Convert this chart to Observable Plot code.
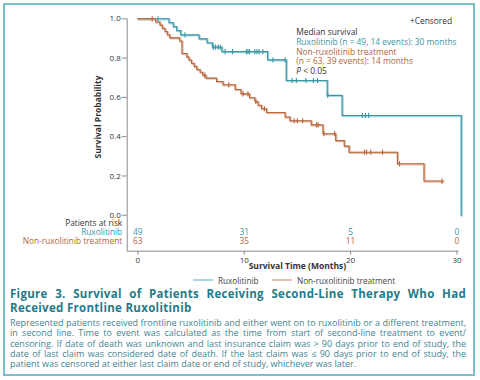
<!DOCTYPE html>
<html><head><meta charset="utf-8">
<script src="https://cdn.jsdelivr.net/npm/d3@7"></script>
<script src="https://cdn.jsdelivr.net/npm/@observablehq/plot@0.6"></script>
<style>
html,body{margin:0;padding:0;background:#fff;}
body{width:480px;height:380px;position:relative;overflow:hidden;font-family:"Open Sans",sans-serif;}
#border{position:absolute;left:3px;top:3px;width:472px;height:373px;box-sizing:border-box;border:2px solid #7cbfca;pointer-events:none}
#chart{position:absolute;left:0;top:0;width:480px}
#legend{position:absolute;top:274px;left:0;width:480px;height:12px;font-size:8.2px;color:#444}
.item{position:absolute;top:0;display:flex;align-items:center;height:12px;white-space:nowrap}
.sw{width:20px;height:2px;margin-right:5px}
#title{position:absolute;left:10px;top:287px;width:456px;font-weight:700;font-size:11.5px;letter-spacing:0.3px;line-height:13.5px;color:#1f7b89}
#body{position:absolute;left:10px;top:318px;width:456px;font-size:9px;line-height:10.3px;color:#3f8592}
.j{display:block;text-align:justify;text-align-last:justify;white-space:nowrap}
.l{display:block;white-space:nowrap}
</style>
</head><body>
<div id="chart"></div>
<div id="legend"></div>
<div id="title"></div>
<div id="body"></div>
<div id="border"></div>
<script>
// ---- data ----
const ruxT = [0, 2.93, 3.34, 3.65, 4.03, 5.75, 6.5, 7.0, 7.9, 12.2, 13.95, 17.8, 19.2, 30.4];
const ruxS = [1.0, 0.980, 0.960, 0.940, 0.918, 0.898, 0.878, 0.856, 0.833, 0.791, 0.686, 0.610, 0.508, 0.0];
const ruxCens = [1.9, 4.43, 7.1, 7.3, 7.55, 7.75, 8.2, 8.9, 10.2, 10.35, 10.5, 11.0, 11.2, 11.4, 11.75, 12.7, 13.85, 14.5, 14.9, 15.8, 16.5, 16.9, 17.85, 21.1, 21.4, 21.7];

const nonT = [0, 1.67, 2.08, 2.3, 2.55, 2.77, 3.0, 3.93, 4.15, 4.6, 4.8, 5.04, 5.3, 5.54, 5.85, 6.1, 6.4, 7.4, 8.0, 9.15, 9.7, 10.5, 11.0, 11.3, 11.62, 12.1, 13.84, 14.3, 16.3, 17.4, 18.6, 19.4, 19.85, 24.4, 26.9, 28.7];
const nonS = [1.0, 0.984, 0.968, 0.952, 0.935, 0.919, 0.903, 0.887, 0.823, 0.806, 0.790, 0.774, 0.758, 0.742, 0.728, 0.713, 0.698, 0.681, 0.664, 0.640, 0.618, 0.598, 0.579, 0.560, 0.542, 0.523, 0.500, 0.481, 0.460, 0.415, 0.380, 0.352, 0.321, 0.262, 0.174, 0.174];
const nonCens = [1.35, 6.3, 8.55, 9.9, 10.35, 11.1, 11.9, 14.7, 15.0, 15.5, 16.8, 16.95, 17.5, 18.5, 21.3, 21.5, 21.9, 23.0, 24.6, 28.6];

const riskTimes = [0, 10, 20, 30];
const riskRux = [49, 31, 5, 0];
const riskNon = [63, 35, 11, 0];
const rowLabels = ["Patients at risk", "Ruxolitinib", "Non-ruxolitinib treatment"];
const seriesNames = ["Ruxolitinib", "Non-ruxolitinib treatment"];
const notes = ["Median survival", "Ruxolitinib (n = 49, 14 events): 30 months", "Non-ruxolitinib treatment", "(n = 63, 39 events): 14 months"];
const xTicks = [0, 10, 20, 30];
const yTicks = [0, 0.2, 0.4, 0.6, 0.8, 1.0];

const titleLines = ["Figure 3. Survival of Patients Receiving Second-Line Therapy Who Had", "Received Frontline Ruxolitinib"];
const bodyLines = [
  "Represented patients received frontline ruxolitinib and either went on to ruxolitinib or a different treatment,",
  "in second line. Time to event was calculated as the time from start of second-line treatment to event/",
  "censoring. If date of death was unknown and last insurance claim was > 90 days prior to end of study, the",
  "date of last claim was considered date of death. If the last claim was \u2264 90 days prior to end of study, the",
  "patient was censored at either last claim date or end of study, whichever was later."
];

// ---- styling ----
const teal = "#3a96a7", tealLight = "#a9d5dd", orange = "#b4653d", orangeLight = "#e4c0aa";
const axisGray = "#8c8c8c", textDark = "#333";
const xDomain = [-1, 30.2], yDomain = [-0.183, 1];

const stepVal = (T, S, t) => { let v = S[0]; for (let i = 0; i < T.length; i++) if (T[i] <= t) v = S[i]; return v; };
const rux = ruxT.map((t, i) => ({t, s: ruxS[i]}));
const non = nonT.map((t, i) => ({t, s: nonS[i]}));
const ruxC = ruxCens.map(t => ({t, s: stepVal(ruxT, ruxS, t)}));
const nonC = nonCens.map(t => ({t, s: stepVal(nonT, nonS, t)}));
const risk = riskTimes.map((t, i) => ({t, rux: riskRux[i], non: riskNon[i]}));

const vtick = {draw(ctx, size) { const h = Math.sqrt(size / Math.PI); ctx.moveTo(0, -h); ctx.lineTo(0, h); }};

const noteColors = [textDark, teal, orange, orange];
const rowColors = [textDark, teal, orange];
const rowDy = [-25.7, -16.7, -7.4];
const noteSize = 8.4;

const chart = Plot.plot({
  width: 480, height: 272,
  marginLeft: 126.7, marginRight: 21.4, marginTop: 18.3, marginBottom: 21.3,
  x: {domain: xDomain},
  y: {domain: yDomain},
  style: {fontFamily: "'Open Sans', sans-serif", fontSize: "8px", color: textDark, overflow: "visible", background: "transparent"},
  marks: [
    Plot.ruleX([xDomain[0]], {stroke: axisGray}),
    Plot.ruleY([yDomain[0]], {stroke: axisGray}),
    Plot.axisY({ticks: yTicks, tickFormat: d3.format(".1f"), tickSize: 5, tickPadding: 1.5, label: null, stroke: axisGray, fill: textDark}),
    Plot.axisX({ticks: xTicks, tickSize: 4, tickPadding: 2, label: null, stroke: axisGray, fill: textDark}),
    Plot.line(rux, {x: "t", y: "s", curve: "step-after", stroke: tealLight, strokeWidth: 2.2, dx: 0.6, dy: 0.6}),
    Plot.line(non, {x: "t", y: "s", curve: "step-after", stroke: orangeLight, strokeWidth: 2.2, dx: 0.6, dy: 0.6}),
    Plot.line(rux, {x: "t", y: "s", curve: "step-after", stroke: teal, strokeWidth: 1.1}),
    Plot.line(non, {x: "t", y: "s", curve: "step-after", stroke: orange, strokeWidth: 1.1}),
    Plot.dot(ruxC, {x: "t", y: "s", symbol: vtick, r: 2.6, stroke: teal, strokeWidth: 1.1, fill: "none"}),
    Plot.dot(nonC, {x: "t", y: "s", symbol: vtick, r: 2.6, stroke: orange, strokeWidth: 1.1, fill: "none"}),
    Plot.text(["+Censored"], {text: d => d, frameAnchor: "top-right", dx: -7, dy: -1, textAnchor: "end", fill: textDark, fontSize: noteSize}),
    ...notes.map((n, i) => Plot.text([n], {text: d => d, frameAnchor: "top-left", dx: 169, dy: 10 + i * 9.9, textAnchor: "start", fill: noteColors[i], fontSize: noteSize})),
    Plot.text(["P"], {text: d => d, frameAnchor: "top-left", dx: 169, dy: 10 + 4 * 9.9, textAnchor: "start", fill: textDark, fontStyle: "italic", fontSize: noteSize}),
    Plot.text(["< 0.05"], {text: d => d, frameAnchor: "top-left", dx: 176, dy: 10 + 4 * 9.9, textAnchor: "start", fill: textDark, fontSize: noteSize}),
    Plot.text(risk, {x: "t", text: "rux", frameAnchor: "bottom", dy: rowDy[1], fill: teal, fontSize: 8.3}),
    Plot.text(risk, {x: "t", text: "non", frameAnchor: "bottom", dy: rowDy[2], fill: orange, fontSize: 8.3}),
    ...rowLabels.map((r, i) => Plot.text([r], {text: d => d, frameAnchor: "bottom-left", dx: -5, dy: rowDy[i], textAnchor: "end", fill: rowColors[i], fontSize: 8.3})),
    Plot.text(["Survival Probability"], {text: d => d, y: () => 0.5, frameAnchor: "left", dx: -29, rotate: -90, textAnchor: "middle", fontWeight: "bold", fill: textDark, fontSize: 8.5}),
    Plot.text(["Survival Time (Months)"], {text: d => d, x: () => 15, frameAnchor: "bottom", dy: 17.5, textAnchor: "middle", fontWeight: "bold", fill: textDark, fontSize: 8.5})
  ]
});
document.getElementById("chart").appendChild(chart);

// legend
const legend = document.getElementById("legend");
const legendLeft = [193, 272];
const swColors = [tealLight, orangeLight];
seriesNames.forEach((name, i) => {
  const it = document.createElement("div");
  it.className = "item";
  it.style.left = legendLeft[i] + "px";
  const sw = document.createElement("span");
  sw.className = "sw";
  sw.style.background = swColors[i];
  const tx = document.createElement("span");
  tx.textContent = name;
  it.appendChild(sw); it.appendChild(tx);
  legend.appendChild(it);
});

const title = document.getElementById("title");
titleLines.forEach((t, i) => { const s = document.createElement("span"); s.className = i < titleLines.length - 1 ? "j" : "l"; s.textContent = t; title.appendChild(s); });
const body = document.getElementById("body");
bodyLines.forEach((t, i) => { const s = document.createElement("span"); s.className = i < bodyLines.length - 1 ? "j" : "l"; s.textContent = t; body.appendChild(s); });
</script>
</body></html>
